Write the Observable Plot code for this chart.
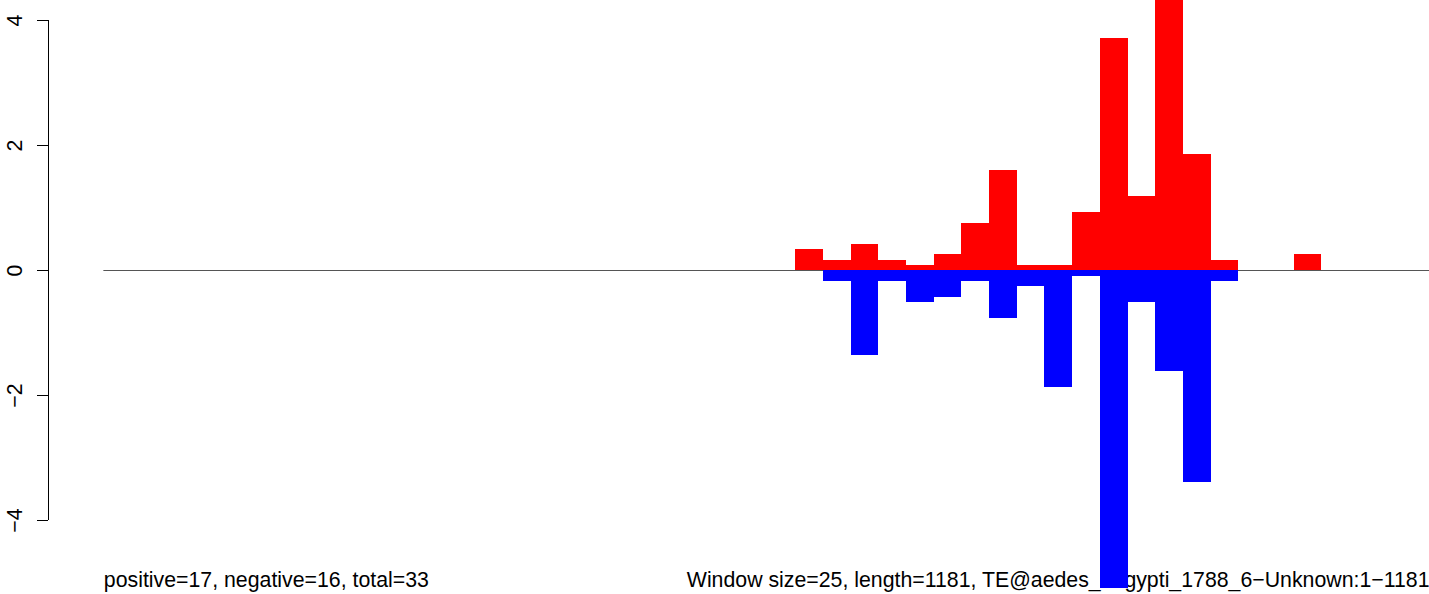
<!DOCTYPE html>
<html>
<head>
<meta charset="utf-8">
<script src="https://cdn.jsdelivr.net/npm/d3@7"></script>
<script src="https://cdn.jsdelivr.net/npm/@observablehq/plot@0.6"></script>
<style>
  html, body { margin: 0; padding: 0; background: #fff; }
  #chart svg { display: block; }
</style>
</head>
<body>
<div id="chart"></div>
<script>
// ---- data ----
const windowSize = 25;
const seqLength = 1181;
const posStarts = [625, 650, 675, 700, 725, 750, 775, 800, 825, 850, 875, 900, 925, 950, 975, 1000, 1075];
const posValues = [0.336, 0.16, 0.416, 0.16, 0.08, 0.256, 0.757, 1.6, 0.08, 0.08, 0.928, 3.712, 1.184, 4.6, 1.856, 0.16, 0.256];
const negStarts = [650, 675, 700, 725, 750, 775, 800, 825, 850, 875, 900, 925, 950, 975, 1000];
const negValues = [-0.176, -1.36, -0.176, -0.507, -0.427, -0.176, -0.763, -0.256, -1.867, -0.096, -5.09, -0.512, -1.61, -3.387, -0.176];
const yTicks = [-4, -2, 0, 2, 4];
const leftLabel = "positive=17, negative=16, total=33";
const rightLabel = "Window size=25, length=1181, TE@aedes_aegypti_1788_6\u2212Unknown:1\u22121181";

const pos = posStarts.map((s, i) => ({start: s, end: s + windowSize, value: posValues[i]}));
const neg = negStarts.map((s, i) => ({start: s, end: s + windowSize, value: negValues[i]}));

const xDomain = [-50, 1197.3];
const yDomain = [-5.184, 4.32];
const fmt = d => String(d).replace("-", "\u2212");
const font = "'Liberation Sans', Arial, Helvetica, sans-serif";

const chart = Plot.plot({
  width: 1429,
  height: 594,
  marginLeft: 48,
  marginRight: 0,
  marginTop: 0,
  marginBottom: 0,
  style: {fontFamily: font, background: "#fff"},
  x: {domain: xDomain, axis: null},
  y: {domain: yDomain, axis: null},
  marks: [
    // zero line
    Plot.ruleY([0], {x1: 0, x2: xDomain[1], stroke: "#555", strokeWidth: 1}),
    // y axis line, ticks and labels
    Plot.ruleX([xDomain[0]], {y1: d3.min(yTicks), y2: d3.max(yTicks), stroke: "#000", strokeWidth: 1}),
    Plot.axisY(yTicks, {anchor: "left", tickSize: 11, tickFormat: () => "", stroke: "#000", strokeOpacity: 1, label: null}),
    Plot.text(yTicks, {y: d => d, text: fmt, frameAnchor: "left", dx: -33, rotate: -90, textAnchor: "middle", lineAnchor: "middle", fontSize: 21.3, fill: "#000"}),
    // bottom labels
    Plot.text([leftLabel], {x: 0, frameAnchor: "bottom", text: d => d, textAnchor: "start", lineAnchor: "bottom", dy: -8, fontSize: 21.3, fill: "#000"}),
    Plot.text([rightLabel], {frameAnchor: "bottom-right", text: d => d, textAnchor: "end", lineAnchor: "bottom", dy: -8, fontSize: 21.3, fill: "#000"}),
    // bars
    Plot.rectY(pos, {x1: "start", x2: "end", y1: 0, y2: "value", fill: "#ff0000", clip: true, shapeRendering: "crispEdges"}),
    Plot.rectY(neg, {x1: "start", x2: "end", y1: 0, y2: "value", fill: "#0000ff", clip: true, shapeRendering: "crispEdges"})
  ]
});

document.getElementById("chart").appendChild(chart);
</script>
</body>
</html>
